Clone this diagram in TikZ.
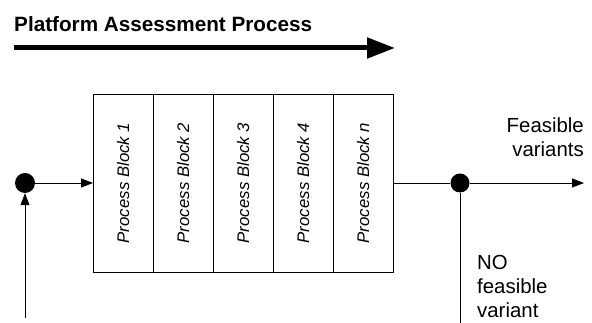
\documentclass[tikz,border=0pt]{standalone}
\usepackage{fontspec}
\setsansfont{Liberation Sans}
\usetikzlibrary{arrows.meta,positioning}

\begin{document}
\begin{tikzpicture}[x=1pt,y=1pt,font=\sffamily,
	pblock/.style={draw,line width=0.8pt,outer sep=0pt,inner sep=0pt,minimum width=60pt,minimum height=178pt,font=\sffamily\itshape\fontsize{16.8}{19}\selectfont},
	dot/.style={circle,fill=black,inner sep=0pt,minimum size=20pt},
	flow/.style={line width=0.8pt,-{Triangle[length=12pt,width=9pt]}},
	lbl/.style={inner sep=0pt,font=\sffamily\fontsize{20.4}{24}\selectfont}]
	\useasboundingbox (0,0) rectangle (592,323);

	\node[anchor=base west,inner sep=0pt,font=\sffamily\bfseries\fontsize{20.7}{24}\selectfont] (title) at (14,291) {Platform Assessment Process};
	\coordinate (pstart) at (14,275);
	\coordinate (pend) at (395,275);
	\draw[line width=5pt,-{Triangle[length=28pt,width=20pt]}] (pstart) -- (pend);

	\node[pblock] (b1) at (123,140) {\rotatebox{90}{Process Block 1}};
	\foreach \t[count=\j from 2] in {2,3,4,n}
	{
		\pgfmathtruncatemacro\k{\j-1}
		\node[pblock,right=0pt of b\k] (b\j) {\rotatebox{90}{Process Block \t}};
	}

	\node[dot] (din) at (25,140) {};
	\node[dot,minimum size=19pt] (dout) at (460,140) {};
	\coordinate (src) at (25,5);
	\coordinate (sink) at (460,0);
	\coordinate (feas) at (584,140);

	\draw[flow] (src) -- (din);
	\draw[flow] (din) -- (b1);
	\draw[line width=0.8pt] (b5) -- (dout);
	\draw[flow] (dout) -- (feas);
	\draw[line width=0.8pt] (dout) -- (sink);

	\node[lbl,align=right,anchor=base east] (yes) at (584,166) {Feasible\\variants};
	\node[lbl,align=left,anchor=base west] (no) at (477,5) {NO\\feasible\\variant};
\end{tikzpicture}
\end{document}
